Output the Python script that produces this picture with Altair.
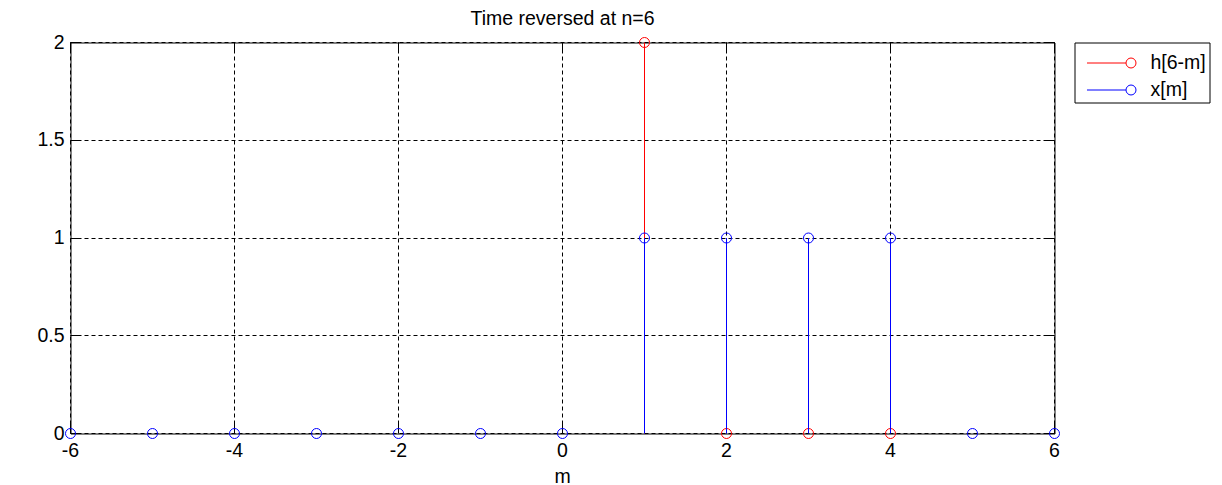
import altair as alt
import pandas as pd

# ---- data ----
series_names = ["h[6-m]", "x[m]"]
series_colors = ["#ff0000", "#0000ff"]
m_h = [1, 2, 3, 4]
h_vals = [2, 0, 0, 0]
m_x = [-6, -5, -4, -3, -2, -1, 0, 1, 2, 3, 4, 5, 6]
x_vals = [0, 0, 0, 0, 0, 0, 0, 1, 1, 1, 1, 0, 0]
x_ticks = [-6, -4, -2, 0, 2, 4, 6]
y_ticks = [0, 0.5, 1, 1.5, 2]
title_text = "Time reversed at n=6"
x_title = "m"

df_h = pd.DataFrame({"m": m_h, "v": h_vals, "s": series_names[0]})
df_x = pd.DataFrame({"m": m_x, "v": x_vals, "s": series_names[1]})
df = pd.concat([df_h, df_x], ignore_index=True)
df["base"] = 0

FONT = "Liberation Sans"
LBL = 19.5
TICK = 10

xscale = alt.Scale(domain=[-6, 6], nice=False, zero=False)
yscale = alt.Scale(domain=[0, 2], nice=False, zero=False)
cscale = alt.Scale(domain=series_names, range=series_colors)

# legend key: a short line ending in an open circle (path units x17 px)
legend_path = ("M -0.471 0 L 1.824 0 M 1.824 0 A 0.294 0.294 0 1 1 2.412 0 "
               "A 0.294 0.294 0 1 1 1.824 0")

legend = alt.Legend(
    title=None, orient="none", legendX=1004, legendY=0,
    symbolType=legend_path, symbolSize=1156, symbolStrokeWidth=1,
    symbolFillColor="transparent",
    labelFont=FONT, labelFontSize=LBL, labelColor="black", labelOffset=38,
    rowPadding=-7, padding=3, strokeColor="#000000", fillColor="white",
)

lab_expr = "'' + datum.value"

x_bottom = alt.Axis(orient="bottom", values=x_ticks, tickSize=TICK, offset=-TICK,
                    domain=False, grid=True, gridColor="black", gridDash=[4, 3],
                    gridOpacity=1, gridWidth=1, tickColor="black", tickWidth=1,
                    labelExpr=lab_expr, labelFont=FONT, labelFontSize=LBL,
                    labelColor="black", labelPadding=8, labelFlush=False,
                    title=x_title, titleFont=FONT, titleFontSize=LBL,
                    titleFontWeight="normal", titleColor="black", titlePadding=8,
                    zindex=0, translate=0)
y_left = alt.Axis(orient="left", values=y_ticks, tickSize=TICK, offset=-TICK,
                  domain=False, grid=True, gridColor="black", gridDash=[4, 3],
                  gridOpacity=1, gridWidth=1, tickColor="black", tickWidth=1,
                  labelExpr=lab_expr, labelFont=FONT, labelFontSize=LBL,
                  labelColor="black", labelPadding=6, labelFlush=False, title=None,
                  zindex=0, translate=0)
x_top = alt.Axis(orient="top", values=x_ticks, tickSize=TICK, offset=-TICK,
                 domain=False, grid=False, labels=False, tickColor="black",
                 tickWidth=1, title=None, zindex=0, translate=0)
y_right = alt.Axis(orient="right", values=y_ticks, tickSize=TICK, offset=-TICK,
                   domain=False, grid=False, labels=False, tickColor="black",
                   tickWidth=1, title=None, zindex=0, translate=0)

base = alt.Chart(df)

stems_h = base.transform_filter(alt.datum.s == series_names[0]).mark_rule(
    strokeWidth=1, color=series_colors[0]).encode(
    x=alt.X("m:Q", scale=xscale, axis=x_bottom),
    y=alt.Y("v:Q", scale=yscale, axis=y_left),
    y2="base:Q",
)
pts_h = base.transform_filter(alt.datum.s == series_names[0]).mark_point(
    shape="circle", filled=False, size=100, strokeWidth=1, opacity=1).encode(
    x=alt.X("m:Q", scale=xscale, axis=x_top),
    y=alt.Y("v:Q", scale=yscale, axis=y_right),
    color=alt.Color("s:N", scale=cscale, legend=legend),
)
stems_x = base.transform_filter(alt.datum.s == series_names[1]).mark_rule(
    strokeWidth=1, color=series_colors[1]).encode(
    x=alt.X("m:Q", scale=xscale, axis=None),
    y=alt.Y("v:Q", scale=yscale, axis=None),
    y2="base:Q",
)
pts_x = base.transform_filter(alt.datum.s == series_names[1]).mark_point(
    shape="circle", filled=False, size=100, strokeWidth=1, opacity=1).encode(
    x=alt.X("m:Q", scale=xscale, axis=None),
    y=alt.Y("v:Q", scale=yscale, axis=None),
    color=alt.Color("s:N", scale=cscale, legend=legend),
)

chart = alt.layer(stems_h, pts_h, stems_x, pts_x).resolve_axis(
    x="independent", y="independent"
).properties(
    width=984, height=391,
    padding={"left": 62.5, "top": 34.5, "right": 159.5, "bottom": 60},
    autosize=alt.AutoSizeParams(type="none"),
    title=alt.TitleParams(title_text, font=FONT, fontSize=19.5, fontWeight="normal",
                          color="black", anchor="middle", offset=3),
    background="white",
).configure_view(stroke="black", strokeWidth=1)

chart.save("out.html", embed_options={"renderer": "svg", "actions": False})
